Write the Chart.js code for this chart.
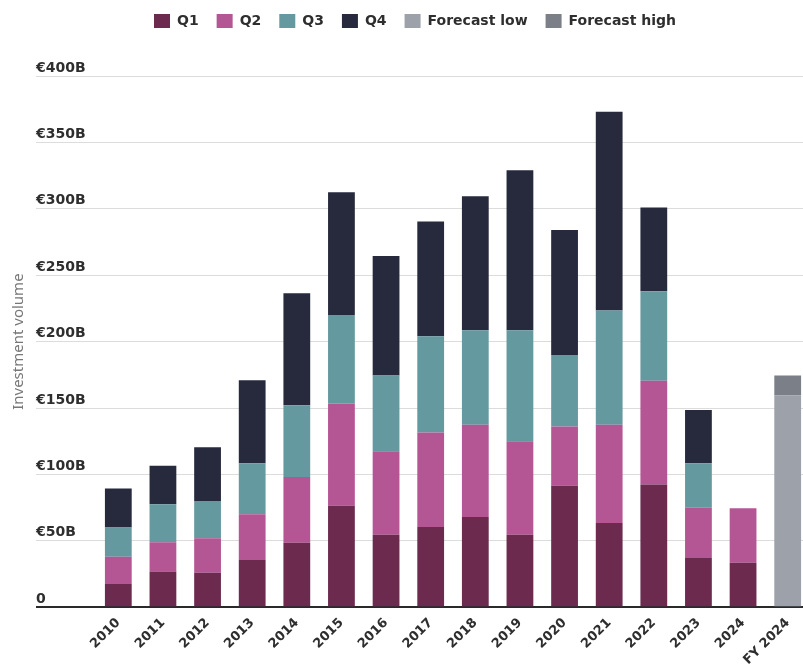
<!DOCTYPE html>
<html>
<head>
<meta charset="utf-8">
<script src="https://cdn.jsdelivr.net/npm/chart.js@4"></script>
<style>
  html, body { margin: 0; padding: 0; background: #fff; overflow: hidden; }
  #wrap { width: 810px; height: 668px; position: relative; }
</style>
</head>
<body>
<div id="wrap"><canvas id="chart"></canvas></div>
<script>
// values in € billions
const years = ['2010', '2011', '2012', '2013', '2014', '2015', '2016', '2017',
  '2018', '2019', '2020', '2021', '2022', '2023', '2024', 'FY 2024'];
const q1 = [17.5, 27, 26, 35.5, 48.5, 76.5, 54.5, 60.5, 68, 54.5, 91.5, 63.5, 92.5, 37, 33.5, null];
const q2 = [20.5, 22, 26, 34.5, 49.5, 77, 63, 71, 69.5, 70.5, 44.5, 74, 78, 38, 41, null];
const q3 = [22, 28.5, 28, 38.5, 54, 66.5, 57, 72.5, 71, 83.5, 54, 86, 67.5, 33.5, null, null];
const q4 = [29.5, 29, 40.5, 62.5, 84.5, 92.5, 90, 86.5, 101, 120.5, 94, 149.5, 63, 40, null, null];
const forecastLow = [null, null, null, null, null, null, null, null, null, null, null, null, null, null, null, 159.5];
const forecastHigh = [null, null, null, null, null, null, null, null, null, null, null, null, null, null, null, 15];

const font = 'DejaVu Sans';
const ink = '#2e2e2e';

// extra room between legend and plot, legend nudged a bit to the right
const legendSpacer = {
  id: 'legendSpacer',
  beforeInit(chart) {
    const legend = chart.legend;
    const fit = legend.fit;
    legend.fit = function () {
      fit.call(this);
      this.height += 38;
    };
    const draw = legend.draw;
    legend.draw = function () {
      const c = this.ctx;
      c.save();
      c.translate(10, 0);
      draw.call(this);
      c.restore();
    };
  }
};

const ctx = document.getElementById('chart');

new Chart(ctx, {
  type: 'bar',
  data: {
    labels: years,
    datasets: [
      { label: 'Q1', data: q1, backgroundColor: '#6b2a4e' },
      { label: 'Q2', data: q2, backgroundColor: '#b45694' },
      { label: 'Q3', data: q3, backgroundColor: '#64999f' },
      { label: 'Q4', data: q4, backgroundColor: '#262a3c' },
      { label: 'Forecast low', data: forecastLow, backgroundColor: '#9ca1aa' },
      { label: 'Forecast high', data: forecastHigh, backgroundColor: '#7b7f88' }
    ]
  },
  options: {
    responsive: true,
    maintainAspectRatio: false,
    animation: false,
    layout: { padding: { top: -4, bottom: 0, left: 0, right: 0 } },
    datasets: {
      bar: { categoryPercentage: 1, barPercentage: 0.6, borderWidth: 0 }
    },
    plugins: {
      legend: {
        position: 'top',
        labels: {
          boxWidth: 16,
          boxHeight: 14,
          padding: 18,
          color: ink,
          font: { family: font, size: 14, weight: 'bold' }
        }
      },
      tooltip: { enabled: false }
    },
    scales: {
      x: {
        stacked: true,
        grid: { display: false },
        border: { display: false },
        ticks: {
          color: ink,
          font: { family: font, size: 13, weight: 'bold' },
          minRotation: 45,
          maxRotation: 45,
          autoSkip: false,
          padding: 0
        }
      },
      y: {
        stacked: true,
        min: 0,
        max: 400,
        afterFit(scale) { scale.width = 96; },
        border: { display: false },
        grid: {
          tickLength: 60,
          color: (c) => (c.tick && c.tick.value === 0 ? '#2a2a2a' : '#dcdcdc'),
          lineWidth: (c) => (c.tick && c.tick.value === 0 ? 2 : 1)
        },
        title: {
          display: true,
          text: 'Investment volume',
          color: '#777',
          font: { family: 'Noto Sans', size: 15 },
          padding: { top: 10, bottom: 0 }
        },
        ticks: {
          stepSize: 50,
          mirror: true,
          padding: -60,
          labelOffset: -8,
          color: ink,
          font: { family: font, size: 14, weight: 'bold' },
          callback: (v) => (v === 0 ? '0' : '€' + v + 'B')
        }
      }
    }
  },
  plugins: [legendSpacer]
});
</script>
</body>
</html>
